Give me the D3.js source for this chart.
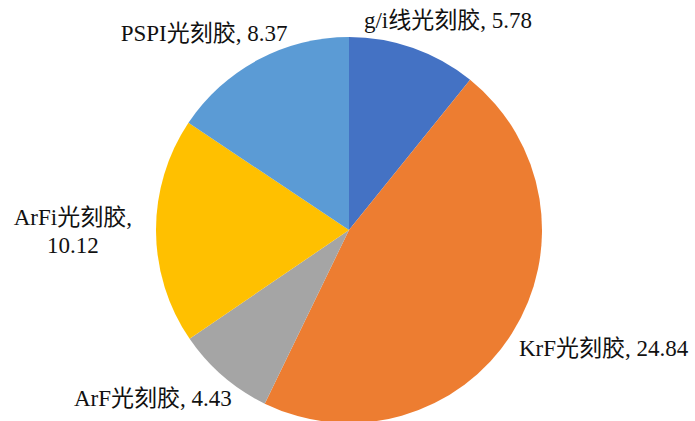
<!DOCTYPE html>
<html>
<head>
<meta charset="utf-8">
<script src="https://cdn.jsdelivr.net/npm/d3@7"></script>
<style>
  body { margin: 0; background: #fff; }
  svg text { font-family: "Liberation Serif", "Times New Roman", "Noto Sans CJK SC", serif; fill: #111; }
</style>
</head>
<body>
<svg id="chart" width="695" height="421"></svg>
<script>
var categories = ["g/i线光刻胶", "KrF光刻胶", "ArF光刻胶", "ArFi光刻胶", "PSPI光刻胶"]
var values = [5.78, 24.84, 4.43, 10.12, 8.37]
var colors = ["#4472C4", "#ED7D31", "#A5A5A5", "#FFC000", "#5B9BD5"]
// label lines (ArFi wraps onto two lines)
var labelLines = [
  ["g/i线光刻胶, 5.78"],
  ["KrF光刻胶, 24.84"],
  ["ArF光刻胶, 4.43"],
  ["ArFi光刻胶,", "10.12"],
  ["PSPI光刻胶, 8.37"]
]

var width = 695, height = 421
var cx = 349, cy = 230, radius = 193
var labelNudge = [[27, -6], [72, 2], [-55, 4], [-60, 0], [-43, -6]]

var svg = d3.select("#chart")
var g = svg.append("g").attr("transform", "translate(" + cx + "," + cy + ")")

var data = categories.map(function (c, i) {
  return { name: c, value: values[i], color: colors[i], lines: labelLines[i], nudge: labelNudge[i] }
})

var pie = d3.pie()
  .sort(null)
  .value(function (d) { return d.value })

var arc = d3.arc().innerRadius(0).outerRadius(radius)
var labelArc = d3.arc().innerRadius(radius * 1.12).outerRadius(radius * 1.12)

var arcs = pie(data)

g.selectAll("path")
  .data(arcs)
  .enter()
  .append("path")
  .attr("d", arc)
  .attr("fill", function (d) { return d.data.color })

var labels = g.selectAll("text.label")
  .data(arcs)
  .enter()
  .append("text")
  .attr("class", "label")
  .attr("font-size", 23)
  .attr("text-anchor", "middle")
  .attr("transform", function (d) {
    var c = labelArc.centroid(d)
    var n = d.data.nudge
    var lh = 28
    var off = -(d.data.lines.length - 1) * lh / 2
    return "translate(" + (c[0] + n[0]) + "," + (c[1] + n[1] + off) + ")"
  })

labels.selectAll("tspan")
  .data(function (d) { return d.data.lines })
  .enter()
  .append("tspan")
  .attr("x", 0)
  .attr("dy", function (d, i) { return i == 0 ? "0.35em" : 28 })
  .text(function (d) { return d })
</script>
</body>
</html>
